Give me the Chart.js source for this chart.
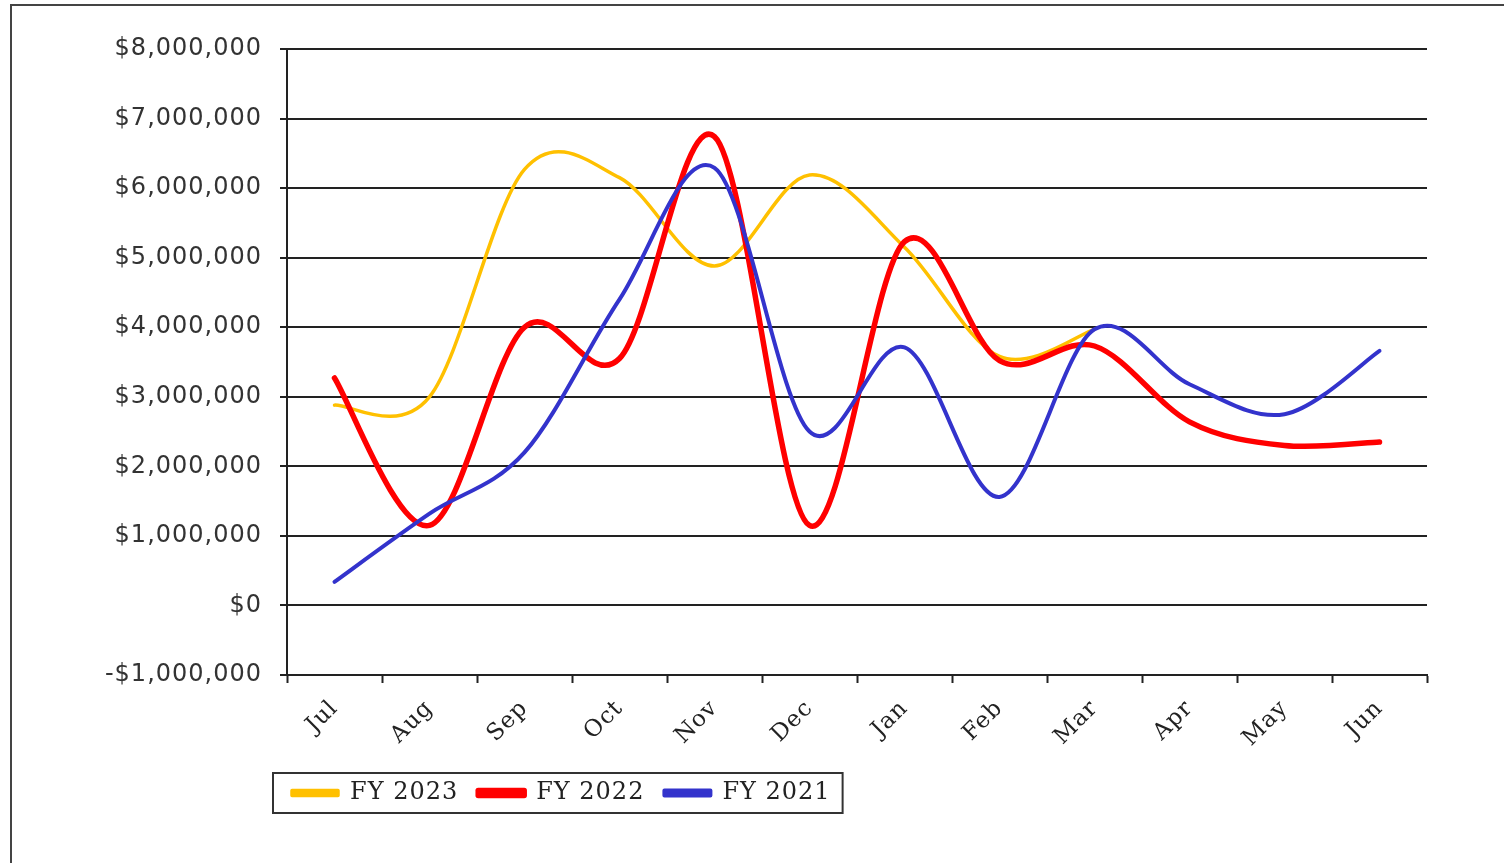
<!DOCTYPE html>
<html>
<head>
<meta charset="utf-8">
<script src="https://cdn.jsdelivr.net/npm/chart.js@4.4.1/dist/chart.umd.min.js"></script>
<style>
  html, body { margin: 0; padding: 0; background: #fff; }
  #wrap { position: relative; width: 1504px; height: 863px; overflow: hidden; }
  #frame { position: absolute; left: 10px; top: 4px; width: 1600px; height: 900px;
           border-left: 2px solid #444; border-top: 2px solid #444; }
  #revenueChart { position: absolute; left: 0; top: 0; }
</style>
</head>
<body>
<div id="wrap">
  <div id="frame"></div>
  <canvas id="revenueChart" width="1504" height="863"></canvas>
</div>
<script>
    // months of the fiscal year
    var months = ["Jul", "Aug", "Sep", "Oct", "Nov", "Dec", "Jan", "Feb", "Mar", "Apr", "May", "Jun"];

    // monthly values
    var fy2023 = [2880000, 3000000, 6270000, 6150000, 4880000, 6190000, 5150000, 3580000, 3970000, null, null, null];
    var fy2022 = [3270000, 1150000, 4000000, 3550000, 6740000, 1150000, 5230000, 3520000, 3730000, 2640000, 2300000, 2350000];
    var fy2021 = [340000, 1320000, 2200000, 4400000, 6290000, 2500000, 3710000, 1560000, 3970000, 3180000, 2750000, 3660000];

    var seriesNames = ["FY 2023", "FY 2022", "FY 2021"];
    var seriesColors = ["#FFC000", "#FF0000", "#3333CC"];

    var yMin = -1000000;
    var yMax = 8000000;
    var yStep = 1000000;

    function money(v) {
      var s = Math.abs(v).toLocaleString("en-US");
      return (v < 0 ? "-$" : "$") + s;
    }

    // the original text is a bit wider than our fonts
    // (set before layout too, so text gets measured with it)
    var wideText = {
      id: "wideText",
      beforeUpdate: function(chart) {
        chart.ctx.letterSpacing = "1px";
      },
      beforeDraw: function(chart) {
        chart.ctx.letterSpacing = "1px";
      }
    };

    // excel style smoothing: control points at 1/6 of neighbour difference
    var excelSmooth = {
      id: "excelSmooth",
      beforeDatasetDraw: function(chart, args) {
        var line = args.meta.dataset;
        line.updateControlPoints(chart.chartArea, "x");
        var pts = args.meta.data.filter(function(p) { return !p.skip; });
        for (var i = 0; i < pts.length; i++) {
          var cur = pts[i];
          var prev = pts[i - 1] || cur;
          var next = pts[i + 1] || cur;
          var dx = (next.x - prev.x) / 6;
          var dy = (next.y - prev.y) / 6;
          cur.cp1x = cur.x - dx;
          cur.cp1y = cur.y - dy;
          cur.cp2x = cur.x + dx;
          cur.cp2y = cur.y + dy;
        }
      }
    };

    // legend sits under the plot, starting left of the axis; with a border round it
    var legendStart = 292;
    var legendBox = {
      id: "legendBox",
      afterUpdate: function(chart) {
        var lg = chart.legend;
        if (!lg || !lg.legendHitBoxes.length) return;
        var shift = legendStart - lg.legendHitBoxes[0].left;
        lg.left += shift;
        lg.right += shift;
        lg.legendHitBoxes.forEach(function(b) { b.left += shift; });
      },
      afterDraw: function(chart) {
        var lg = chart.legend;
        if (!lg || !lg.legendHitBoxes.length) return;
        var boxes = lg.legendHitBoxes;
        var last = boxes[boxes.length - 1];
        var ctx = chart.ctx;
        var x0 = boxes[0].left - 19;
        var x1 = last.left + last.width + 12;
        var yc = boxes[0].top + boxes[0].height / 2;
        ctx.save();
        ctx.strokeStyle = "#333";
        ctx.lineWidth = 2;
        ctx.strokeRect(x0, yc - 20, x1 - x0, 40);
        ctx.restore();
      }
    };

    function makeDataset(i, values, width, order) {
      return {
        label: seriesNames[i],
        data: values,
        borderColor: seriesColors[i],
        backgroundColor: seriesColors[i],
        borderWidth: width,
        borderCapStyle: "round",
        borderJoinStyle: "round",
        pointRadius: 0,
        tension: 0.33,
        fill: false,
        order: order
      };
    }

    var ctx = document.getElementById("revenueChart").getContext("2d");
    var revenueChart = new Chart(ctx, {
      type: "line",
      data: {
        labels: months,
        datasets: [
          makeDataset(0, fy2023, 3.5, 2),
          makeDataset(1, fy2022, 5.5, 1),
          makeDataset(2, fy2021, 4, 0)
        ]
      },
      plugins: [wideText, excelSmooth, legendBox],
      options: {
        responsive: false,
        animation: false,
        layout: {
          padding: { left: 60, right: 77, top: 49, bottom: 48 }
        },
        scales: {
          x: {
            offset: true,
            afterFit: function(scale) { scale.height = 86; },
            grid: {
              offset: true,
              drawOnChartArea: false,
              drawTicks: true,
              tickLength: 8,
              tickWidth: 2,
              tickColor: "#222"
            },
            border: { color: "#222", width: 2 },
            ticks: {
              maxRotation: 45,
              minRotation: 45,
              padding: 12,
              color: "#222",
              font: { family: "'DejaVu Serif', serif", size: 23 }
            }
          },
          y: {
            min: yMin,
            max: yMax,
            afterFit: function(scale) { scale.width = 287 - 60; },
            grid: {
              color: "#222",
              lineWidth: 2,
              drawTicks: true,
              tickLength: 7,
              tickColor: "#222"
            },
            border: { color: "#222", width: 2 },
            ticks: {
              stepSize: yStep,
              padding: 18,
              color: "#333",
              font: { family: "'DejaVu Sans', Verdana, sans-serif", size: 24 },
              callback: function(v) { return money(v); }
            }
          }
        },
        plugins: {
          tooltip: { enabled: false },
          legend: {
            position: "bottom",
            align: "start",
            labels: {
              boxWidth: 46,
              boxHeight: 5,
              padding: 20,
              color: "#222",
              font: { family: "'DejaVu Serif', serif", size: 24 },
              sort: function(a, b) { return a.datasetIndex - b.datasetIndex; }
            }
          }
        }
      }
    });
</script>
</body>
</html>
